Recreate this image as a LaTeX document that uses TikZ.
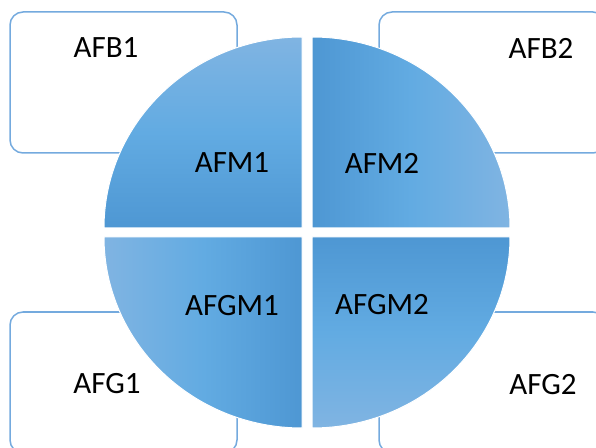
\documentclass[tikz,border=0pt]{standalone}
\usepackage{fontspec}
\setmainfont{Carlito}
\usetikzlibrary{positioning,shapes,arrows}
\definecolor{boxline}{RGB}{116,170,222}
\definecolor{qdark}{RGB}{78,151,211}
\definecolor{qmid}{RGB}{98,171,226}
\definecolor{qlight}{RGB}{128,180,226}

\begin{document}
\begin{tikzpicture}[
  x=1pt,y=1pt,
  outbox/.style={draw=boxline,line width=1.5pt,rounded corners=13pt,fill=white,
    minimum width=227pt,minimum height=141pt,inner sep=0pt},
  quarter/.style={draw=white,line width=1pt},
  lbl/.style={inner sep=0pt},
  font=\fontsize{31}{37}\selectfont
]
\clip (0,0) rectangle (596,447);
\node[outbox] (B1) at (123.5,364.5) {};
\node[outbox] (B2) at (492.5,364.5) {};
\node[outbox] (G1) at (123.5,64.5) {};
\node[outbox] (G2) at (492.5,64.5) {};
\path[quarter,top color=qlight,bottom color=qdark,middle color=qmid]
  (302,219) -- (104,219) arc[start angle=180,end angle=90,x radius=198,y radius=191] -- cycle;
\path[quarter,left color=qdark,right color=qlight,middle color=qmid]
  (312,219) -- (312,410) arc[start angle=90,end angle=0,x radius=198,y radius=191] -- cycle;
\path[quarter,left color=qlight,right color=qdark,middle color=qmid]
  (302,210) -- (104,210) arc[start angle=180,end angle=270,x radius=198,y radius=191] -- cycle;
\path[quarter,top color=qdark,bottom color=qlight,middle color=qmid]
  (312,210) -- (510,210) arc[start angle=0,end angle=-90,x radius=198,y radius=191] -- cycle;
\node[lbl] (AFB1) at (106,399) {AFB1};
\node[lbl] (AFB2) at (541,399) {AFB2};
\node[lbl] (AFM1) at (232,284) {AFM1};
\node[lbl] (AFM2) at (382,284) {AFM2};
\node[lbl] (AFGM1) at (232,141) {AFGM1};
\node[lbl] (AFGM2) at (382,142) {AFGM2};
\node[lbl] (AFG1) at (107,63) {AFG1};
\node[lbl] (AFG2) at (543,62) {AFG2};
\end{tikzpicture}
\end{document}
